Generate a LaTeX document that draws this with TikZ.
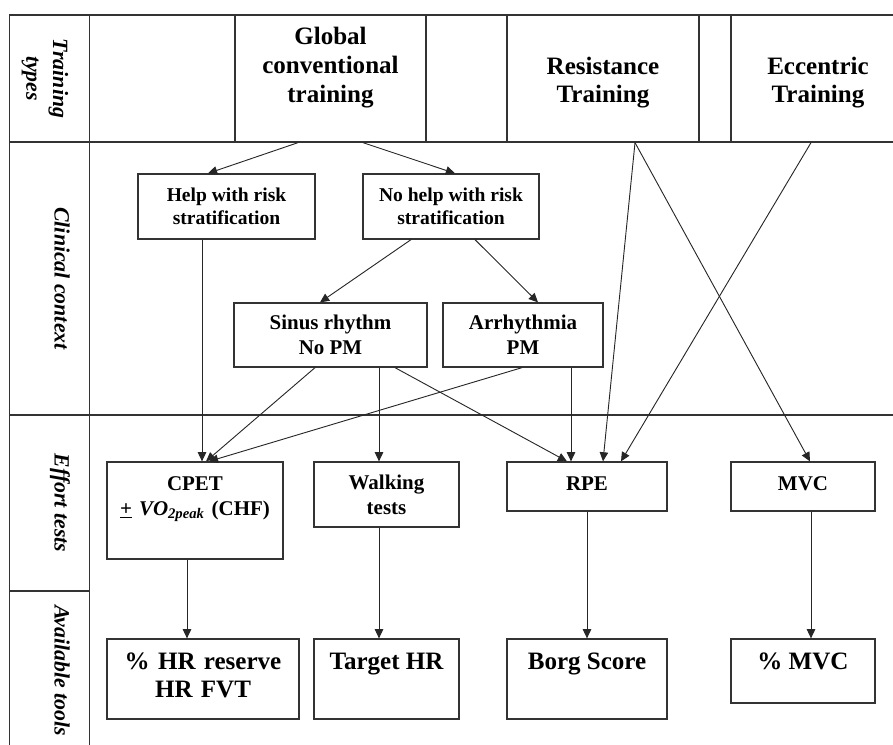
\documentclass[tikz,border=0pt]{standalone}
\usepackage{fontspec}
\setmainfont{Liberation Serif}
\usetikzlibrary{arrows.meta, calc}

\begin{document}
\begin{tikzpicture}[x=0.025cm, y=-0.025cm,
    flowbox/.style={rectangle, draw=black!80, line width=0.9pt, align=center,
                    font=\bfseries\fontsize{14.9}{17.8}\selectfont},
    bigbox/.style={flowbox, font=\bfseries\fontsize{17.8}{20.3}\selectfont},
    smallbox/.style={flowbox, font=\bfseries\fontsize{13.9}{16.1}\selectfont},
    topbox/.style={bigbox, inner sep=0pt, text height=0.75cm},
    lane/.style={rectangle, draw=black!80, line width=0.9pt, rotate=-90, align=center,
                 inner sep=0pt, font=\bfseries\itshape\fontsize{15.5}{19}\selectfont},
    onelane/.style={lane, minimum height=2cm, text height=0.875cm, text depth=1.125cm},
    bandline/.style={draw=black!80, line width=0.9pt},
    arr/.style={-{Triangle[length=6.5pt, width=6pt]}, draw=black!85, line width=0.65pt}
]
    \useasboundingbox (0,0) rectangle (893,744);
    \clip (0,0) rectangle (893,744);

    % Rows
    \draw[bandline] (9.5,15) -- (910,15);
    \draw[bandline] (9.5,142) -- (910,142);
    \draw[bandline] (9.5,415) -- (910,415);

    % Row labels
    \node[lane, text width=3.175cm, text height=0.9125cm, text depth=1.0875cm] (types) at (49.5,78.5) {Training\\types};
    \node[onelane, minimum width=6.825cm] (clinical) at (49.5,278.5) {Clinical context};
    \node[onelane, minimum width=4.4cm] (effort) at (49.5,503) {Effort tests};
    \node[onelane, minimum width=3.975cm] (tools) at (49.5,670.5) {Available tools};

    % Training types
    \node[topbox, text width=4.775cm, text depth=2.425cm] (glob) at (330.5,78.5) {Global\\conventional\\training};
    \node[bigbox, inner sep=0pt, text width=4.8cm, text height=1.475cm, text depth=1.7cm] (resist) at (603,78.5) {Resistance\\Training};
    \node[bigbox, inner sep=0pt, text width=4.35cm, text height=1.475cm, text depth=1.7cm] (ecc) at (818,78.5) {Eccentric\\Training};

    % Clinical context
    \node[smallbox, minimum width=4.425cm, minimum height=1.625cm] (help) at (226.5,206.5) {Help with risk\\stratification};
    \node[smallbox, minimum width=4.4cm, minimum height=1.625cm] (nohelp) at (451,206.5) {No help with risk\\stratification};
    \node[flowbox, minimum width=4.825cm, minimum height=1.6cm] (sinus) at (330.5,335) {Sinus rhythm\\No PM};
    \node[flowbox, minimum width=4cm, minimum height=1.6cm] (arrh) at (523,335) {Arrhythmia\\PM};

    % Effort tests
    \node[flowbox, inner sep=0pt, text width=4.4cm, text height=0.7cm, text depth=1.725cm] (cpet) at (195,510.5)
        {CPET\\\underline{+}~\textit{VO}\textsubscript{\textit{2peak}}~(CHF)};
    \node[flowbox, minimum width=3.625cm, minimum height=1.625cm] (walk) at (386.5,494.5) {Walking\\tests};
    \node[flowbox, inner sep=0pt, minimum width=4cm, text height=0.7cm, text depth=0.525cm] (rpe) at (587,486.5) {RPE};
    \node[flowbox, inner sep=0pt, minimum width=3.6cm, text height=0.7cm, text depth=0.525cm] (mvc) at (803,486.5) {MVC};

    % Available tools
    \node[topbox, text width=4.8cm, text depth=1.25cm] (hrres) at (203,679) {\%~HR reserve\\HR FVT};
    \node[topbox, minimum width=3.625cm, text depth=1.25cm] (target) at (386.5,679) {Target HR};
    \node[topbox, minimum width=4cm, text depth=1.25cm] (borg) at (587,679) {Borg Score};
    \node[topbox, minimum width=3.6cm, text depth=0.85cm] (pmvc) at (803,671) {\%~MVC};

    % Arrows
    \draw[arr] ($(glob.south)+(-32.5,0)$) -- ($(help.north)+(-18.5,0)$);
    \draw[arr] ($(glob.south)+(32.5,0)$) -- ($(nohelp.north)+(4,0)$);
    \draw[arr] ($(nohelp.south)+(-40,0)$) -- ($(sinus.north)+(-10.5,0)$);
    \draw[arr] ($(nohelp.south)+(24,0)$) -- ($(arrh.north)+(15,0)$);
    \draw[arr] ($(help.south)+(-24.5,0)$) -- ($(cpet.north)+(7,0)$);
    \draw[arr] ($(sinus.south)+(-15.5,0)$) -- ($(cpet.north)+(11,0)$);
    \draw[arr] ($(sinus.south)+(48.5,0)$) -- ($(walk.north)+(-7.5,0)$);
    \draw[arr] ($(sinus.south)+(64.5,0)$) -- ($(rpe.north)+(-20,0)$);
    \draw[arr] ($(arrh.south)+(-1,0)$) -- ($(cpet.north)+(14,0)$);
    \draw[arr] ($(arrh.south)+(48,0)$) -- ($(rpe.north)+(-16,0)$);
    \draw[arr] ($(resist.south)+(32,0)$) -- ($(rpe.north)+(16,0)$);
    \draw[arr] ($(resist.south)+(32,0)$) -- ($(mvc.north)+(7,0)$);
    \draw[arr] ($(ecc.south)+(-7,0)$) -- ($(rpe.north)+(34,0)$);
    \draw[arr] ($(cpet.south)+(-8,0)$) -- ($(hrres.north)+(-16,0)$);
    \draw[arr] ($(walk.south)+(-7.5,0)$) -- ($(target.north)+(-7.5,0)$);
    \draw[arr] (rpe) -- (borg);
    \draw[arr] ($(mvc.south)+(8,0)$) -- ($(pmvc.north)+(8,0)$);

\end{tikzpicture}
\end{document}
